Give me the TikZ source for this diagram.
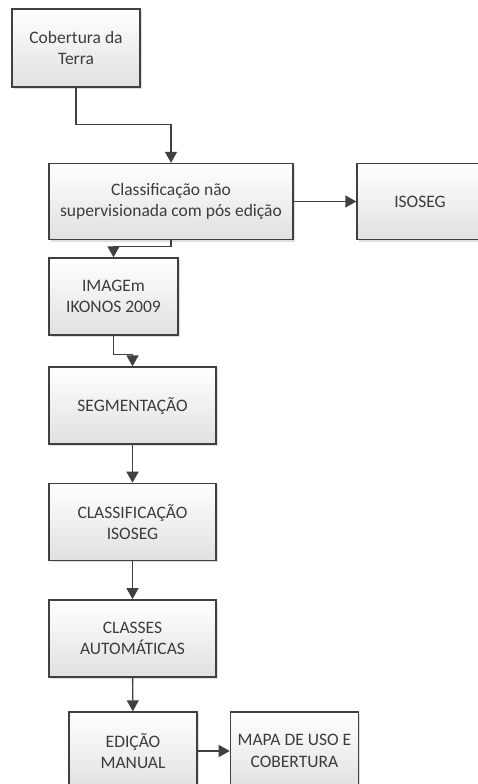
\documentclass[tikz,border=0pt]{standalone}
\usepackage{fontspec}
\setmainfont{Carlito}
\usepackage{tikz}
\usetikzlibrary{positioning, arrows.meta, shadows, calc}
\definecolor{linegray}{HTML}{404040}
\definecolor{textgray}{HTML}{3C3C3C}
\tikzset{
    flowbox/.style={draw=linegray, line width=1.4pt, rectangle, inner sep=0pt,
      top color=white, bottom color=black!12, text=textgray, align=center,
      font=\fontsize{17.5}{21.5}\selectfont,
      drop shadow={shadow xshift=2pt, shadow yshift=-2pt, opacity=0.25}},
    flow/.style={draw=linegray, line width=1.4pt,
      -{Triangle[width=12pt, length=11pt]}},
}

\begin{document}
\begin{tikzpicture}[x=1pt, y=-1pt]
    \fill[white] (0,0) rectangle (478,784);
    \useasboundingbox (0,0) rectangle (478,784);
    \clip (0,0) rectangle (478,784);

    \node[flowbox, minimum width=128pt, minimum height=78pt] (cob) at (76,48) {Cobertura da\\Terra};
    \node[flowbox, minimum width=244pt, minimum height=76pt] (cls) at (171,201.5) {Classificação não\\supervisionada com pós edição};
    \node[flowbox, minimum width=126pt, minimum height=76pt] (iso) at (420,201.5) {ISOSEG};
    \node[flowbox, minimum width=129pt, minimum height=77pt] (img) at (113.5,296.5) {IMAGEm\\IKONOS 2009};
    \node[flowbox, minimum width=167pt, minimum height=77pt] (seg) at (132.5,405.5) {SEGMENTAÇÃO};
    \node[flowbox, minimum width=167pt, minimum height=77pt, below=38pt of seg] (clf) {CLASSIFICAÇÃO\\ISOSEG};
    \node[flowbox, minimum width=167pt, minimum height=77pt, below=38pt of clf] (cla) {CLASSES\\AUTOMÁTICAS};
    \node[flowbox, minimum width=128pt, minimum height=78pt] (edi) at (133,751) {EDIÇÃO\\MANUAL};
    \node[flowbox, minimum width=128pt, minimum height=78pt, right=32pt of edi] (map) {MAPA DE USO E\\COBERTURA};

    \draw[flow] (cob.south) -- ++(0,37) -| (cls.north);
    \draw[flow] (cls.east) -- (iso.west);
    \draw[flow] (cls.south) -- ++(0,6) -| (img.north);
    \draw[flow] (img.south) -- ++(0,19) -| (seg.north);
    \draw[flow] (seg) -- (clf);
    \draw[flow] (clf) -- (cla);
    \draw[flow] (cla) -- (edi);
    \draw[flow] (edi) -- (map);
\end{tikzpicture}
\end{document}
